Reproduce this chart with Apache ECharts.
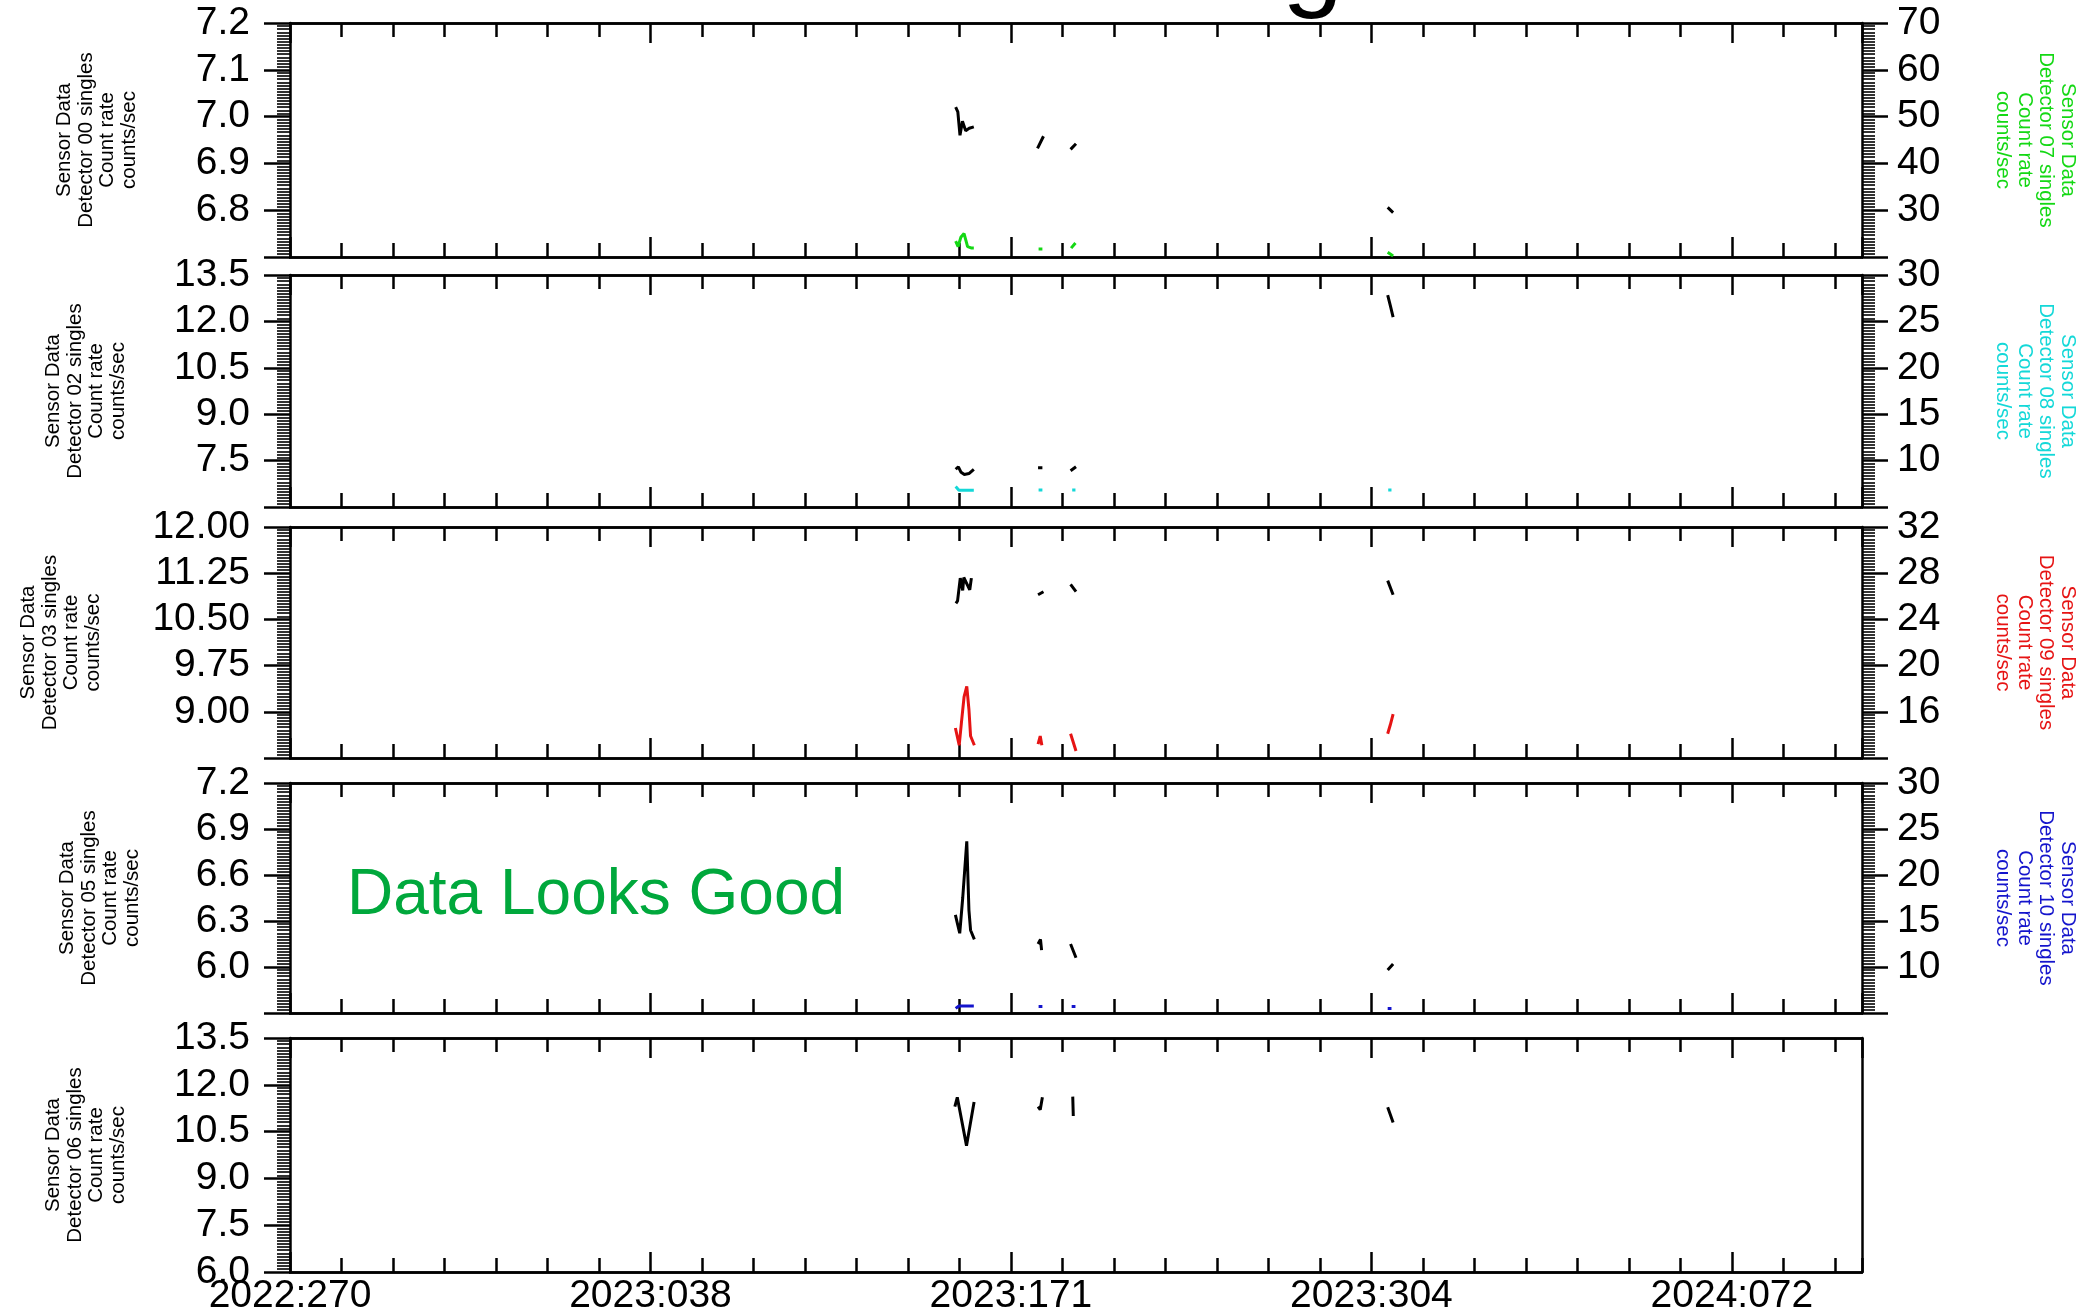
<!DOCTYPE html>
<html>
<head>
<meta charset="utf-8">
<script src="https://cdn.jsdelivr.net/npm/echarts@6/dist/echarts.min.js"></script>
<style>
  html, body { margin: 0; padding: 0; background: #fff; }
  #chart { width: 2090px; height: 1308px; }
</style>
</head>
<body>
<div id="chart"></div>
<script>
// Time axis: days counted from 2022:270 (year:day-of-year)
const dayTickLabels = ['2022:270', '2023:038', '2023:171', '2023:304', '2024:072'];
const dayMajorStep = 133;
const dayMinorStep = 19;
const dayRange = [0, 580];

// Tick labels of every axis, from the bottom of the panel to the top
const det00Ticks = ['6.7', '6.8', '6.9', '7.0', '7.1', '7.2'];
const det07Ticks = ['20', '30', '40', '50', '60', '70'];
const det02Ticks = ['6.0', '7.5', '9.0', '10.5', '12.0', '13.5'];
const det08Ticks = ['5', '10', '15', '20', '25', '30'];
const det03Ticks = ['8.25', '9.00', '9.75', '10.50', '11.25', '12.00'];
const det09Ticks = ['12', '16', '20', '24', '28', '32'];
const det05Ticks = ['5.7', '6.0', '6.3', '6.6', '6.9', '7.2'];
const det10Ticks = ['5', '10', '15', '20', '25', '30'];
const det06Ticks = ['6.0', '7.5', '9.0', '10.5', '12.0', '13.5'];

// Count rates [day, counts/sec]; each inner block is one contiguous stretch of data
const det00 = [
  [[245.6, 7.02], [246.4, 7.01], [247.2, 6.96], [248.1, 6.99], [249.3, 6.97], [250.6, 6.975], [252.3, 6.978]],
  [[275.8, 6.932], [278.0, 6.958]],
  [[288.0, 6.930], [290.0, 6.942]],
  [[405.0, 6.806], [407.0, 6.795]]
];
const det07 = [
  [[245.6, 23.4], [246.5, 22.2], [247.5, 24.2], [248.7, 25.0], [250.0, 22.2], [251.5, 21.9], [252.3, 21.9]],
  [[276.2, 21.7], [277.6, 21.7]],
  [[288.2, 21.9], [289.8, 23.0]],
  [[405.0, 21.0], [407.0, 20.2]]
];
const det02 = [
  [[245.6, 7.22], [246.6, 7.30], [247.6, 7.12], [248.8, 7.05], [250.5, 7.08], [252.3, 7.22]],
  [[276.0, 7.27], [277.6, 7.27]],
  [[288.0, 7.17], [290.0, 7.30]],
  [[405.0, 12.85], [406.0, 12.50], [407.0, 12.14]]
];
const det08 = [
  [[245.6, 7.2], [246.8, 6.8], [248.0, 6.8], [250.0, 6.8], [252.3, 6.8]],
  [[276.2, 6.83], [277.6, 6.83]],
  [[288.6, 6.83], [289.8, 6.83]],
  [[405.2, 6.83], [406.4, 6.83]]
];
const det03 = [
  [[245.7, 10.76], [246.3, 10.80], [247.3, 11.17], [248.2, 10.97], [248.6, 11.18], [250.8, 10.98], [251.4, 11.17]],
  [[276.0, 10.90], [278.0, 10.95]],
  [[288.0, 11.07], [290.0, 10.95]],
  [[405.0, 11.13], [407.0, 10.90]]
];
const det09 = [
  [[245.5, 14.6], [246.9, 13.1], [247.7, 15.0], [248.7, 17.3], [249.7, 18.2], [250.5, 16.2], [251.1, 13.9], [252.5, 13.1]],
  [[276.0, 13.2], [276.8, 13.9], [277.4, 13.1]],
  [[288.0, 14.1], [290.0, 12.6]],
  [[405.0, 14.1], [406.0, 14.9], [407.0, 15.8]]
];
const det05 = [
  [[245.5, 6.34], [246.3, 6.28], [247.1, 6.22], [248.2, 6.45], [249.7, 6.82], [250.5, 6.37], [251.1, 6.24], [252.5, 6.18]],
  [[276.0, 6.15], [276.9, 6.18], [277.3, 6.11]],
  [[288.0, 6.15], [290.0, 6.06]],
  [[405.0, 5.98], [407.0, 6.02]]
];
const det10 = [
  [[245.6, 5.5], [246.8, 5.76], [249.0, 5.76], [252.3, 5.76]],
  [[276.2, 5.7], [277.6, 5.7]],
  [[288.4, 5.7], [289.8, 5.7]],
  [[405.0, 5.5], [406.4, 5.5]]
];
const det06 = [
  [[245.3, 11.30], [246.2, 11.60], [249.6, 10.05], [252.4, 11.45]],
  [[276.0, 11.30], [276.8, 11.20], [277.6, 11.60]],
  [[288.8, 11.62], [289.0, 11.00]],
  [[405.0, 11.28], [407.0, 10.79]]
];

const FONT = 'Liberation Sans, Arial, Helvetica, sans-serif';
const AXIS_W = 2.5;

// Panel geometry (pixels) and styling
const panelTop = [23, 275, 527, 783, 1038];
const panelHeight = [234, 232, 231, 230, 234];
const plotLeft = 290, plotRight = 1862;
const leftTitleX = [97, 86, 61, 100, 86];
const rightTitleX = 2035;

const panels = [
  { det: '00', ticks: det00Ticks, data: det00, rDet: '07', rTicks: det07Ticks, rData: det07, color: '#14D814' },
  { det: '02', ticks: det02Ticks, data: det02, rDet: '08', rTicks: det08Ticks, rData: det08, color: '#14D8D8' },
  { det: '03', ticks: det03Ticks, data: det03, rDet: '09', rTicks: det09Ticks, rData: det09, color: '#E61414' },
  { det: '05', ticks: det05Ticks, data: det05, rDet: '10', rTicks: det10Ticks, rData: det10, color: '#1414CC' },
  { det: '06', ticks: det06Ticks, data: det06 }
];

function dayLabel(v) {
  const i = Math.round(v / dayMajorStep);
  return Math.abs(i * dayMajorStep - v) < 1e-6 && dayTickLabels[i] ? dayTickLabels[i] : '';
}

// Join the contiguous stretches, leaving a break between them
function joined(blocks) {
  const out = [];
  blocks.forEach((b, k) => {
    if (k > 0) out.push([b[0][0], '-']);
    b.forEach(p => out.push(p));
  });
  return out;
}

const lineStyleAxis = { color: '#000', width: AXIS_W };

function xAxes(g, labelled) {
  const base = {
    type: 'value', gridIndex: g, min: dayRange[0], max: dayRange[1],
    splitLine: { show: false },
    axisLine: { show: true, onZero: false, lineStyle: lineStyleAxis }
  };
  const major = (pos, withLabels) => Object.assign({}, base, {
    position: pos, interval: dayMajorStep,
    axisTick: { show: true, inside: true, length: 20, lineStyle: lineStyleAxis },
    axisLabel: {
      show: withLabels, margin: 5, showMaxLabel: false, showMinLabel: true,
      formatter: dayLabel, color: '#000', fontSize: 39, fontFamily: FONT
    }
  });
  const minor = pos => Object.assign({}, base, {
    position: pos, interval: dayMinorStep,
    axisTick: { show: true, inside: true, length: 14, lineStyle: lineStyleAxis },
    axisLabel: { show: false }
  });
  return [major('bottom', labelled), minor('bottom'), major('top', false), minor('top')];
}

function yAxis(g, ticks, pos, showMin) {
  const min = parseFloat(ticks[0]);
  const max = parseFloat(ticks[ticks.length - 1]);
  const step = parseFloat(ticks[1]) - min;
  return {
    type: 'value', gridIndex: g, position: pos, min: min, max: max, interval: step,
    splitLine: { show: false },
    axisLine: { show: true, onZero: false, lineStyle: lineStyleAxis },
    axisTick: { show: true, inside: false, length: 26, lineStyle: lineStyleAxis },
    minorTick: { show: true, splitNumber: 15, length: 13, lineStyle: { color: '#000', width: 1.6 } },
    axisLabel: {
      show: true, margin: pos === 'left' ? 40 : 35, showMinLabel: showMin, showMaxLabel: true,
      color: '#000', fontSize: 39, fontFamily: FONT,
      formatter: v => ticks[Math.round((v - min) / step)]
    }
  };
}

const grid = [], xAxis = [], yAxisList = [], series = [], graphic = [];

panels.forEach((p, g) => {
  grid.push({
    left: plotLeft, width: plotRight - plotLeft, top: panelTop[g], height: panelHeight[g],
    show: false, containLabel: false, outerBoundsMode: 'none'
  });
  xAxis.push(...xAxes(g, g === panels.length - 1));
  const last = g === panels.length - 1;
  yAxisList.push(yAxis(g, p.ticks, 'left', last));
  if (p.rTicks) {
    yAxisList.push(yAxis(g, p.rTicks, 'right', false));
  } else {
    // plain frame edge on the right of the last panel
    yAxisList.push({
      type: 'value', gridIndex: g, position: 'right', min: 0, max: 1,
      splitLine: { show: false }, axisTick: { show: false }, axisLabel: { show: false },
      axisLine: { show: true, onZero: false, lineStyle: lineStyleAxis }
    });
  }
  const yLeft = yAxisList.length - 2, yRight = yAxisList.length - 1;

  if (p.rData) {
    series.push({
      type: 'line', name: 'Detector ' + p.rDet, xAxisIndex: g * 4, yAxisIndex: yRight,
      data: joined(p.rData), showSymbol: false, symbol: 'none', connectNulls: false,
      lineStyle: { color: p.color, width: 3 }, clip: true, z: 3
    });
  }
  series.push({
    type: 'line', name: 'Detector ' + p.det, xAxisIndex: g * 4, yAxisIndex: yLeft,
    data: joined(p.data), showSymbol: false, symbol: 'none', connectNulls: false,
    lineStyle: { color: '#000', width: 3 }, clip: true, z: 4
  });

  const cy = panelTop[g] + panelHeight[g] / 2;
  graphic.push({
    type: 'text', x: leftTitleX[g], y: cy, rotation: Math.PI / 2,
    style: {
      text: ['Sensor Data', 'Detector ' + p.det + ' singles', 'Count rate', 'counts/sec'].join('\n'),
      fill: '#000', font: '20.5px ' + FONT, lineHeight: 21.5,
      textAlign: 'center', textVerticalAlign: 'middle'
    }
  });
  if (p.rDet) {
    graphic.push({
      type: 'text', x: rightTitleX, y: cy, rotation: -Math.PI / 2,
      style: {
        text: ['Sensor Data', 'Detector ' + p.rDet + ' singles', 'Count rate', 'counts/sec'].join('\n'),
        fill: p.color, font: '20.5px ' + FONT, lineHeight: 21.5,
        textAlign: 'center', textVerticalAlign: 'middle'
      }
    });
  }
});

// status note inside the fourth panel
graphic.push({
  type: 'text', x: 347, y: 896,
  style: { text: 'Data Looks Good', fill: '#00A83C', font: '64px ' + FONT, textAlign: 'left', textVerticalAlign: 'middle' }
});
// lower end of the page heading, which sits above the top edge
graphic.push({
  type: 'text', x: 1282, y: -34,
  style: { text: 'g', fill: '#000', font: '110px ' + FONT, textAlign: 'left', textVerticalAlign: 'middle' }
});

const chart = echarts.init(document.getElementById('chart'), null, { renderer: 'canvas' });
chart.setOption({
  animation: false,
  backgroundColor: '#fff',
  textStyle: { fontFamily: FONT },
  grid: grid,
  xAxis: xAxis,
  yAxis: yAxisList,
  series: series,
  graphic: graphic
});
</script>
</body>
</html>
